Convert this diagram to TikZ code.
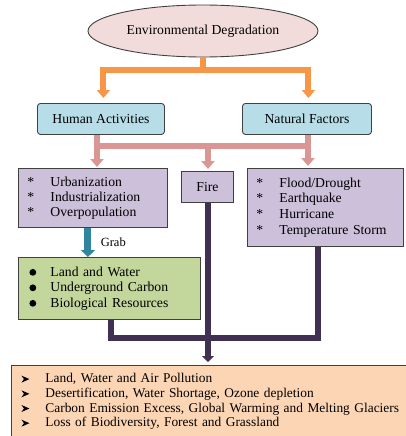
\documentclass[tikz,border=0pt]{standalone}
\usepackage{fontspec}
\setmainfont{Liberation Serif}
\usetikzlibrary{arrows.meta,shapes.geometric}

\definecolor{degfill}{HTML}{F2DCDB}
\definecolor{causefill}{HTML}{B7DEE8}
\definecolor{listfill}{HTML}{CCC0DA}
\definecolor{grabfill}{HTML}{C3D69B}
\definecolor{effectfill}{HTML}{FCD5B5}
\definecolor{orangeline}{HTML}{F79646}
\definecolor{pinkline}{HTML}{D99694}
\definecolor{tealline}{HTML}{31859C}
\definecolor{darkline}{HTML}{403152}

\newcommand{\starmark}{\makebox[23pt][l]{*}}
\newcommand{\dotmark}{\makebox[21pt][l]{\raisebox{0.5pt}{\tikz\fill (0,0) circle (3.4pt);}}}
\newcommand{\tipmark}{\makebox[24pt][l]{\raisebox{0pt}{\tikz\fill (0pt,0pt) -- (8pt,3.5pt) -- (0pt,7pt) -- (2.5pt,3.5pt) -- cycle;}}}

\begin{document}
\begin{tikzpicture}[
    x=1pt, y=-1pt,
    font=\fontsize{13.7}{15}\selectfont,
    box/.style={draw=black!75, line width=0.9pt, inner sep=0pt},
    cause/.style={box, fill=causefill, rounded corners=3pt, anchor=north west},
    listbox/.style={box, anchor=north west, align=left, inner xsep=9pt},
    thick arrow/.style={line width=6pt, -{Triangle[width=13pt,length=8pt]}},
    flow/.style={line width=6pt, darkline}
  ]
    \useasboundingbox (0,0) rectangle (405,436);

    % 1. Nodes
    \node[box, ellipse, fill=degfill, minimum width=230, minimum height=52] (deg) at (203,31) {Environmental Degradation};

    \node[cause, minimum width=127, minimum height=31] (human) at (37,103) {Human Activities};
    \node[cause, minimum width=129, minimum height=31] (natural) at (242,103) {Natural Factors};

    \node[listbox, fill=listfill, text width=131, minimum height=59] (urban) at (18,168)
      {\starmark Urbanization\\ \starmark Industrialization\\ \starmark Overpopulation};
    \node[box, fill=listfill, anchor=north west, minimum width=52, minimum height=31] (fire) at (181,171) {Fire};
    \node[listbox, fill=listfill, text width=138, minimum height=78, font=\fontsize{13.7}{15.6}\selectfont] (hazard) at (247,168)
      {\starmark Flood/Drought\\ \starmark Earthquake\\ \starmark Hurricane\\ \starmark Temperature Storm};

    \node[listbox, fill=grabfill, text width=160, minimum height=62, inner xsep=11pt, font=\fontsize{13.7}{15.5}\selectfont] (resource) at (18,257)
      {\dotmark Land and Water\\ \dotmark Underground Carbon\\ \dotmark Biological Resources};

    \node[listbox, fill=effectfill, text width=420, minimum height=72, inner xsep=10pt, font=\fontsize{13.4}{14.7}\selectfont] (effect) at (11,365)
      {\tipmark Land, Water and Air Pollution\\
       \tipmark Desertification, Water Shortage, Ozone depletion\\
       \tipmark Carbon Emission Excess, Global Warming and Melting Glaciers\\
       \tipmark Loss of Biodiversity, Forest and Grassland};

    % 2. Junctions
    \coordinate (topsplit) at (203,70);
    \coordinate (hsplit) at (97,146);
    \coordinate (nsplit) at (308,146);
    \coordinate (fsplit) at (208,146);
    \coordinate (join) at (208,338);

    % 3. Connectors
    \draw[orangeline, line width=6pt] (deg.south) -- (topsplit);
    \draw[orangeline, thick arrow, shorten >=5pt] (topsplit) -| ([xshift=2.5pt]human.north);
    \draw[orangeline, thick arrow, shorten >=5pt] (topsplit) -| ([xshift=1.5pt]natural.north);

    \draw[pinkline, line width=6.5pt] (hsplit |- human.south) -- (hsplit) -- (nsplit) -- (nsplit |- natural.south);
    \draw[pinkline, thick arrow, shorten >=1pt] (hsplit) -- (hsplit |- urban.north);
    \draw[pinkline, thick arrow, shorten >=2pt] (fsplit) -- (fsplit |- fire.north);
    \draw[pinkline, thick arrow, shorten >=2pt] (nsplit) -- (nsplit |- hazard.north);

    \draw[tealline, line width=7pt, -{Triangle[width=14pt,length=7pt]}] ([xshift=-5pt]urban.south) -- ([xshift=-5pt]urban.south |- resource.north)
      node[midway, right=6pt, font=\fontsize{12.5}{13}\selectfont, text=black] {Grab};

    \draw[flow] ([xshift=2pt]resource.south) |- (join);
    \draw[flow] ([xshift=-7pt]hazard.south) |- (join);
    \draw[flow, -{Triangle[width=12pt,length=6pt]}, shorten >=3pt] (fsplit |- fire.south) -- (fsplit |- effect.north);

\end{tikzpicture}
\end{document}
